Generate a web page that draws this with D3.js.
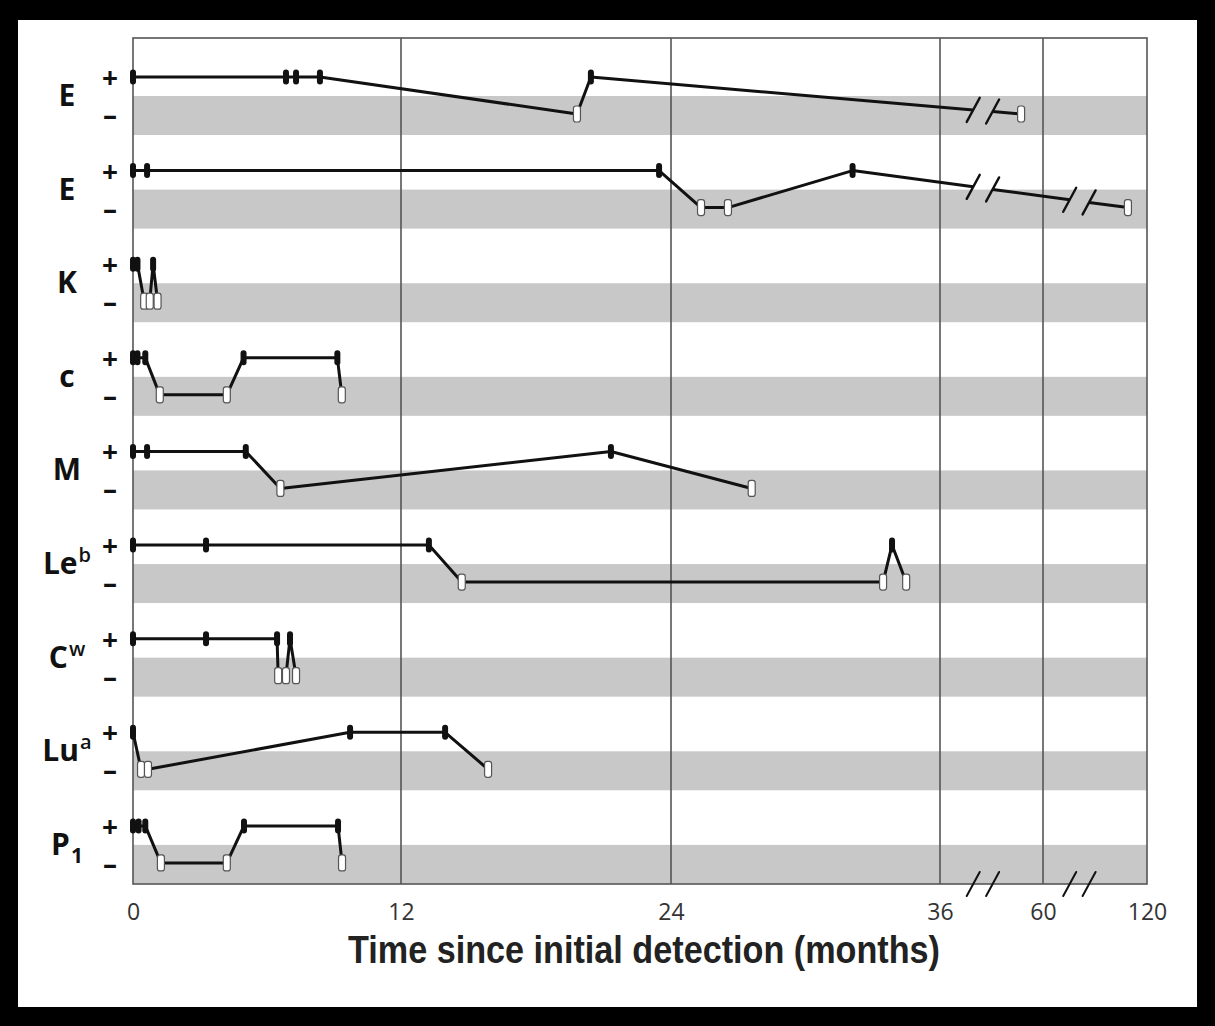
<!DOCTYPE html>
<html>
<head>
<meta charset="utf-8">
<script src="https://cdn.jsdelivr.net/npm/d3@7"></script>
<style>
  body { margin: 0; background: #000; }
  svg { display: block; }
</style>
</head>
<body>
<div class="chart"></div>
<script>
//Row labels (base text, superscript, subscript)
var labelBase = ["E", "E", "K", "c", "M", "Le", "C", "Lu", "P"];
var labelSup = ["", "", "", "", "", "b", "w", "a", ""];
var labelSub = ["", "", "", "", "", "", "", "", "1"];

//Test results per row: [months, 1 = positive / 0 = negative]
var rowE1 = [[0, 1], [6.85, 1], [7.3, 1], [8.37, 1], [19.82, 0], [20.44, 1], [54.9, 0]];
var rowE2 = [[0, 1], [0.63, 1], [23.47, 1], [25.34, 0], [26.54, 0], [32.1, 1], [109, 0]];
var rowK = [[0, 1], [0.2, 1], [0.5, 0], [0.75, 0], [0.9, 1], [1.1, 0]];
var rowC = [[0, 1], [0.2, 1], [0.55, 1], [1.2, 0], [4.2, 0], [4.95, 1], [9.15, 1], [9.35, 0]];
var rowM = [[0, 1], [0.63, 1], [5.05, 1], [6.6, 0], [21.33, 1], [27.6, 0]];
var rowLeb = [[0, 1], [3.27, 1], [13.24, 1], [14.7, 0], [33.46, 0], [33.86, 1], [34.49, 0]];
var rowCw = [[0, 1], [3.27, 1], [6.45, 1], [6.5, 0], [6.85, 0], [7.03, 1], [7.3, 0]];
var rowLua = [[0, 1], [0.36, 0], [0.67, 0], [9.72, 1], [13.96, 1], [15.87, 0]];
var rowP1 = [[0, 1], [0.25, 1], [0.55, 1], [1.25, 0], [4.2, 0], [4.97, 1], [9.18, 1], [9.36, 0]];
var rows = [rowE1, rowE2, rowK, rowC, rowM, rowLeb, rowCw, rowLua, rowP1];

//Axis ticks, gridlines and axis breaks (months)
var tickValues = [0, 12, 24, 36, 60, 120];
var gridValues = [12, 24, 36, 60];
var breakMonths = [46, 81];

//Width and height
var w = 1215;
var h = 1026;
var plotLeft = 133, plotRight = 1147, plotTop = 38, plotBottom = 884;

var svg = d3.select(".chart")
    .append("svg")
    .attr("width", w)
    .attr("height", h);

//Black frame
svg.append("rect").attr("width", w).attr("height", h).attr("fill", "#000");
svg.append("rect")
    .attr("x", 18).attr("y", 20)
    .attr("width", 1179).attr("height", 987)
    .attr("fill", "#fff");

//Scales (broken time axis)
var xScale = d3.scaleLinear()
    .domain(tickValues)
    .range([plotLeft, 401, 671, 940, 1043, plotRight]);

var rowScale = d3.scaleBand()
    .domain(d3.range(rows.length))
    .range([42, 884.5]);

var plusY = i => rowScale(i) + 35;
var minusY = i => rowScale(i) + 72;
var yOf = (i, s) => s ? plusY(i) : minusY(i);

//Grey bands behind the negative level
svg.selectAll(".band")
    .data(rows)
    .enter()
    .append("rect")
    .attr("class", "band")
    .attr("x", plotLeft)
    .attr("width", plotRight - plotLeft)
    .attr("y", (d, i) => rowScale(i) + 54)
    .attr("height", (d, i) => Math.min(39, plotBottom - rowScale(i) - 54))
    .attr("fill", "#c8c8c8");

//Vertical gridlines
svg.selectAll(".grid")
    .data(gridValues)
    .enter()
    .append("line")
    .attr("x1", d => xScale(d))
    .attr("x2", d => xScale(d))
    .attr("y1", plotTop)
    .attr("y2", plotBottom)
    .attr("stroke", "#555")
    .attr("stroke-width", 1.6);

//Plot border
svg.append("rect")
    .attr("x", plotLeft).attr("y", plotTop)
    .attr("width", plotRight - plotLeft).attr("height", plotBottom - plotTop)
    .attr("fill", "none")
    .attr("stroke", "#555")
    .attr("stroke-width", 1.6);

//Break gap around each break
var gap = 9.7;
var breakPx = breakMonths.map(m => xScale(m));

function slash(g, x, y, sw) {
    g.append("line")
        .attr("x1", x - 6.5).attr("y1", y + 12)
        .attr("x2", x + 6.5).attr("y2", y - 12)
        .attr("stroke", "#111")
        .attr("stroke-width", sw)
        .attr("stroke-linecap", "round");
}

var line = d3.line();

rows.forEach((data, i) => {
    var g = svg.append("g").attr("class", "row");
    var pts = data.map(d => [xScale(d[0]), yOf(i, d[1])]);

    //Split into pieces where a segment crosses an axis break
    var pieces = [[pts[0]]];
    var cuts = [];
    for (var k = 1; k < pts.length; k++) {
        var a = pts[k - 1], b = pts[k];
        breakPx.forEach(bx => {
            if (a[0] < bx - gap && b[0] > bx + gap) {
                var t0 = (bx - gap - a[0]) / (b[0] - a[0]);
                var t1 = (bx + gap - a[0]) / (b[0] - a[0]);
                var p0 = [bx - gap, a[1] + t0 * (b[1] - a[1])];
                var p1 = [bx + gap, a[1] + t1 * (b[1] - a[1])];
                pieces[pieces.length - 1].push(p0);
                pieces.push([p1]);
                cuts.push(p0, p1);
            }
        });
        pieces[pieces.length - 1].push(b);
    }

    g.selectAll("path")
        .data(pieces)
        .enter()
        .append("path")
        .attr("d", line)
        .attr("fill", "none")
        .attr("stroke", "#111")
        .attr("stroke-width", 3)
        .attr("stroke-linejoin", "round");

    cuts.forEach(c => slash(g, c[0], c[1], 2.4));

    //Negative markers
    g.selectAll(".neg")
        .data(data.filter(d => !d[1]))
        .enter()
        .append("rect")
        .attr("class", "neg")
        .attr("x", d => xScale(d[0]) - 3.5)
        .attr("y", minusY(i) - 8)
        .attr("width", 7)
        .attr("height", 16)
        .attr("rx", 2.5)
        .attr("fill", "#fff")
        .attr("stroke", "#555")
        .attr("stroke-width", 1.2);

    //Positive markers
    g.selectAll(".pos")
        .data(data.filter(d => d[1]))
        .enter()
        .append("rect")
        .attr("class", "pos")
        .attr("x", d => xScale(d[0]) - 3)
        .attr("y", plusY(i) - 7.5)
        .attr("width", 6)
        .attr("height", 15)
        .attr("rx", 3)
        .attr("fill", "#111");

    //Row label
    var label = svg.append("text")
        .attr("x", 67)
        .attr("y", rowScale(i) + 64)
        .attr("text-anchor", "middle")
        .style("font-family", "'Open Sans', sans-serif")
        .style("font-weight", 700)
        .style("font-size", "30px")
        .attr("fill", "#111")
        .text(labelBase[i]);
    if (labelSup[i]) {
        label.append("tspan")
            .attr("dx", 1).attr("dy", -12)
            .style("font-size", "20px")
            .style("font-weight", 600)
            .text(labelSup[i]);
    }
    if (labelSub[i]) {
        label.append("tspan")
            .attr("dx", 1).attr("dy", 8)
            .style("font-size", "21px")
            .text(labelSub[i]);
    }

    //+ and - level signs
    svg.append("text")
        .attr("x", 110).attr("y", plusY(i))
        .attr("text-anchor", "middle")
        .attr("dominant-baseline", "central")
        .style("font-family", "'Open Sans', sans-serif")
        .style("font-weight", 700)
        .style("font-size", "28px")
        .attr("fill", "#111")
        .text("+");
    svg.append("text")
        .attr("x", 110).attr("y", minusY(i))
        .attr("text-anchor", "middle")
        .attr("dominant-baseline", "central")
        .style("font-family", "'Open Sans', sans-serif")
        .style("font-weight", 700)
        .style("font-size", "28px")
        .attr("fill", "#111")
        .text("–");
});

//X axis
var xAxis = d3.axisBottom(xScale)
    .tickValues(tickValues)
    .tickSize(0)
    .tickPadding(20);
var axisG = svg.append("g")
    .attr("transform", "translate(0," + plotBottom + ")")
    .call(xAxis);
axisG.select(".domain").remove();
axisG.selectAll("text")
    .style("font-family", "'Open Sans', sans-serif")
    .style("font-size", "23px")
    .attr("fill", "#333");

//Axis break marks on the bottom border
breakPx.forEach(bx => {
    slash(svg, bx - gap, plotBottom, 2);
    slash(svg, bx + gap, plotBottom, 2);
});

//Axis title
svg.append("text")
    .attr("x", 644)
    .attr("y", 963)
    .attr("text-anchor", "middle")
    .attr("textLength", 592)
    .attr("lengthAdjust", "spacingAndGlyphs")
    .style("font-family", "'Liberation Sans', Arial, sans-serif")
    .style("font-weight", 700)
    .style("font-size", "38px")
    .attr("fill", "#222")
    .text("Time since initial detection (months)");
</script>
</body>
</html>
